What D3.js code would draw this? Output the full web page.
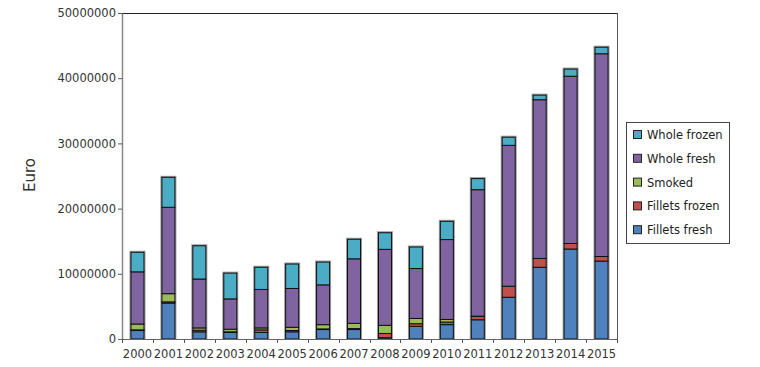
<!DOCTYPE html>
<html><head><meta charset="utf-8">
<script src="https://cdn.jsdelivr.net/npm/d3@7"></script>
<style>body{margin:0;background:#fff;} svg{display:block;font-family:"DejaVu Sans",sans-serif;}</style>
</head><body>
<svg id="c" width="760" height="367"></svg>
<script>
const years = ["2000","2001","2002","2003","2004","2005","2006","2007","2008","2009","2010","2011","2012","2013","2014","2015"];
const filletsFresh  = [1.3, 5.5, 1.1, 1.0, 1.0, 1.1, 1.45, 1.45, 0.2, 1.95, 2.2, 2.95, 6.4, 11.0, 13.8, 11.95];
const filletsFrozen = [0.1, 0.2, 0.25, 0.1, 0.4, 0.2, 0.1, 0.15, 0.65, 0.4, 0.4, 0.5, 1.7, 1.35, 0.85, 0.7];
const smoked        = [0.9, 1.25, 0.35, 0.4, 0.3, 0.5, 0.65, 0.8, 1.25, 0.8, 0.4, 0.05, 0.0, 0.0, 0.0, 0.0];
const wholeFresh    = [8.0, 13.25, 7.5, 4.65, 5.9, 5.95, 6.1, 9.9, 11.65, 7.66, 12.25, 19.4, 21.6, 24.35, 25.65, 31.1];
const wholeFrozen   = [3.0, 4.6, 5.1, 3.95, 3.4, 3.75, 3.5, 3.0, 2.55, 3.3, 2.8, 1.7, 1.25, 0.7, 1.1, 1.0];
const seriesNames = ["Fillets fresh","Fillets frozen","Smoked","Whole fresh","Whole frozen"];
const seriesColors = ["#4f81bd","#c0504d","#9bbb59","#8064a2","#4bacc6"];
const yTicks = [0,10000000,20000000,30000000,40000000,50000000];
const unit = 1000000;

const seriesVals = [filletsFresh, filletsFrozen, smoked, wholeFresh, wholeFrozen];
const rows = years.map((y,i)=>{const r={year:y}; seriesNames.forEach((s,j)=>r[s]=seriesVals[j][i]*unit); return r;});

const svg = d3.select("#c");
const L=122, R=617, T=13, B=339;
const x = d3.scaleBand().domain(years).range([L,R]).paddingInner(0.58).paddingOuter(0.29);
const y = d3.scaleLinear().domain([0,50000000]).range([B,T]);

// frame top/right
svg.append("line").attr("x1",L).attr("x2",R).attr("y1",T+0.5).attr("y2",T+0.5).attr("stroke","#222");
svg.append("line").attr("x1",R+0.5).attr("x2",R+0.5).attr("y1",T).attr("y2",B).attr("stroke","#555");

const stack = d3.stack().keys(seriesNames)(rows);

// shadow behind bars
svg.append("g").selectAll("rect").data(rows).join("rect")
  .attr("x",d=>x(d.year)-0.5).attr("width",x.bandwidth()+1)
  .attr("y",d=>y(d3.sum(seriesNames,s=>d[s]))-0.5)
  .attr("height",d=>B-y(d3.sum(seriesNames,s=>d[s]))+0.5)
  .attr("fill","none").attr("stroke","#9a9a9a").attr("stroke-width",2);

svg.append("g").selectAll("g").data(stack).join("g")
  .attr("fill",(d,i)=>seriesColors[i])
  .selectAll("rect").data(d=>d.filter(p=>p[1]-p[0]>0)).join("rect")
  .attr("x",d=>x(d.data.year)).attr("width",x.bandwidth())
  .attr("y",d=>y(d[1])).attr("height",d=>y(d[0])-y(d[1]))
  .attr("stroke","#111").attr("stroke-width",1);

// y axis
const ya = svg.append("g").attr("transform",`translate(${L},0)`)
  .call(d3.axisLeft(y).tickValues(yTicks).tickFormat(d3.format("d")).tickSizeInner(4).tickSizeOuter(0).tickPadding(2));
ya.select(".domain").attr("stroke","#888").attr("stroke-width",1.5);
ya.selectAll(".tick line").attr("stroke","#555");
ya.selectAll("text").attr("font-size","11.5px").attr("fill","#333").attr("font-family","DejaVu Sans");

// x axis with ticks between categories
const xa = svg.append("g").attr("transform",`translate(0,${B})`);
xa.append("line").attr("x1",L-4).attr("x2",R).attr("y1",0.5).attr("y2",0.5).attr("stroke","#666");
const bounds = years.map(yv=>x(yv)-x.step()*x.paddingInner()/2 - (x.step()-x.bandwidth())/2 + x.step()*x.paddingInner()/2).concat([R]);
xa.selectAll(".tk").data(bounds).join("line").attr("class","tk")
  .attr("x1",d=>Math.round(d)+0.5).attr("x2",d=>Math.round(d)+0.5).attr("y1",0).attr("y2",4).attr("stroke","#555");
xa.selectAll("text").data(years).join("text")
  .attr("x",d=>x(d)+x.bandwidth()/2).attr("y",19).attr("text-anchor","middle")
  .attr("font-size","11.5px").attr("fill","#333").text(d=>d);

// y label
svg.append("text").attr("transform","translate(35,175) rotate(-90)").attr("text-anchor","middle")
  .attr("font-size","15px").attr("fill","#333").text("Euro");

// legend
const lg = svg.append("g");
lg.append("rect").attr("x",626.5).attr("y",122.5).attr("width",103).attr("height",121)
  .attr("fill","#fff").attr("stroke","#444");
const legOrder = seriesNames.map((s,i)=>i).reverse();
legOrder.forEach((idx,k)=>{
  const cy = 135 + k*23.8;
  lg.append("rect").attr("x",633.5).attr("y",cy-4.5).attr("width",8).attr("height",8)
    .attr("fill",seriesColors[idx]).attr("stroke","#222");
  lg.append("text").attr("x",647).attr("y",cy+4).attr("font-size","11.5px").attr("fill","#222").text(seriesNames[idx]);
});
</script>
</body></html>
